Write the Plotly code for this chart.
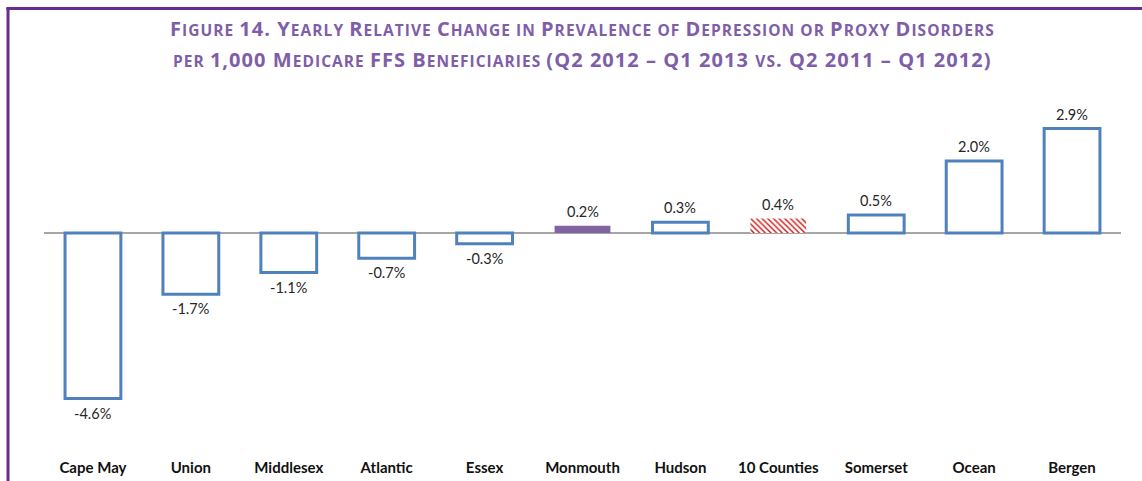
import plotly.graph_objects as go

categories = ["Cape May", "Union", "Middlesex", "Atlantic", "Essex", "Monmouth",
              "Hudson", "10 Counties", "Somerset", "Ocean", "Bergen"]
values = [-4.6, -1.7, -1.1, -0.7, -0.3, 0.2, 0.3, 0.4, 0.5, 2.0, 2.9]
labels = ["-4.6%", "-1.7%", "-1.1%", "-0.7%", "-0.3%", "0.2%", "0.3%", "0.4%",
          "0.5%", "2.0%", "2.9%"]

title_line1 = "Figure 14. Yearly Relative Change in Prevalence of Depression or Proxy Disorders"
title_line2 = "per 1,000 Medicare FFS Beneficiaries (Q2 2012 \u2013 Q1 2013 vs. Q2 2011 \u2013 Q1 2012)"

BLUE = "#4F81BD"
PURPLE = "#8064A2"
RED = "#D01515"
TITLE_COLOR = "#7E5EA8"
BORDER = "#6D2B8E"


def small_caps(s, big=20, small=15.5, spacing=1.05):
    runs = []
    for ch in s:
        cls = "s" if ch.islower() else ("x" if ch == " " else "b")
        if cls == "x" and runs:
            runs[-1][1] += ch
            continue
        if runs and runs[-1][0] == cls:
            runs[-1][1] += ch
        else:
            runs.append([cls, ch])
    out = ""
    for cls, txt in runs:
        size = small if cls == "s" else big
        out += "<span style='font-size:%spx;letter-spacing:%spx'>%s</span>" % (size, spacing, txt.upper())
    return out


main_vals = []
main_fill = []
main_line = []
main_width = []
hatch_vals = []
for c, v in zip(categories, values):
    if c == "10 Counties":
        main_vals.append(None)
        hatch_vals.append(v)
        main_fill.append("white")
        main_line.append(BLUE)
        main_width.append(0)
    elif c == "Monmouth":
        main_vals.append(v)
        hatch_vals.append(None)
        main_fill.append(PURPLE)
        main_line.append(PURPLE)
        main_width.append(0)
    else:
        main_vals.append(v)
        hatch_vals.append(None)
        main_fill.append("white")
        main_line.append(BLUE)
        main_width.append(3)

fig = go.Figure()
fig.add_trace(go.Bar(
    x=categories, y=main_vals,
    marker=dict(color=main_fill, line=dict(color=main_line, width=main_width)),
    hoverinfo="skip", cliponaxis=False,
))
fig.add_trace(go.Bar(
    x=categories, y=hatch_vals,
    marker=dict(color="white", line=dict(width=0),
                pattern=dict(shape="\\", fgcolor=RED, bgcolor="white",
                             fgopacity=1, size=4, solidity=0.35, fillmode="replace")),
    hoverinfo="skip", cliponaxis=False,
))

annotations = []
for c, v, t in zip(categories, values, labels):
    annotations.append(dict(
        x=c, y=v, xref="x", yref="y", text=t, showarrow=False,
        yanchor="bottom" if v >= 0 else "top",
        yshift=4 if v >= 0 else -4,
        font=dict(family="Lato", size=14.5, color="#262626"),
    ))

annotations += [
    dict(text=small_caps(title_line1), x=0.5, xref="paper", y=1.197, yref="paper",
         xanchor="center", yanchor="middle", showarrow=False,
         font=dict(family="Open Sans", color=TITLE_COLOR, weight="bold")),
    dict(text=small_caps(title_line2), x=0.5, xref="paper", y=1.113, yref="paper",
         xanchor="center", yanchor="middle", showarrow=False,
         font=dict(family="Open Sans", color=TITLE_COLOR, weight="bold")),
]

fig.update_layout(
    width=1142, height=481,
    margin=dict(l=44, r=21, t=100, b=20, autoexpand=False),
    paper_bgcolor="white", plot_bgcolor="white",
    showlegend=False,
    barmode="overlay",
    bargap=0.43,
    xaxis=dict(showgrid=False, showline=False, ticks="", automargin=False,
               ticklabelstandoff=-4,
               tickfont=dict(family="Lato", size=15, color="#111111", weight="bold")),
    yaxis=dict(range=[-6.333, 3.694], showgrid=False, showticklabels=False,
               zeroline=True, zerolinecolor="#A6A6A6", zerolinewidth=1.5,
               showline=False, ticks="", automargin=False),
    annotations=annotations,
    shapes=[
        dict(type="line", xref="paper", yref="paper", x0=-0.035, x1=1.03,
             y0=1.2535, y1=1.2535, line=dict(color=BORDER, width=3)),
        dict(type="line", xref="paper", yref="paper", x0=-0.0334, x1=-0.0334,
             y0=1.2535, y1=-0.1, line=dict(color=BORDER, width=3)),
    ],
)

fig.write_html("out.html", config={"displayModeBar": False},
               post_script="document.body.style.margin='0';document.body.style.overflow='hidden';")
